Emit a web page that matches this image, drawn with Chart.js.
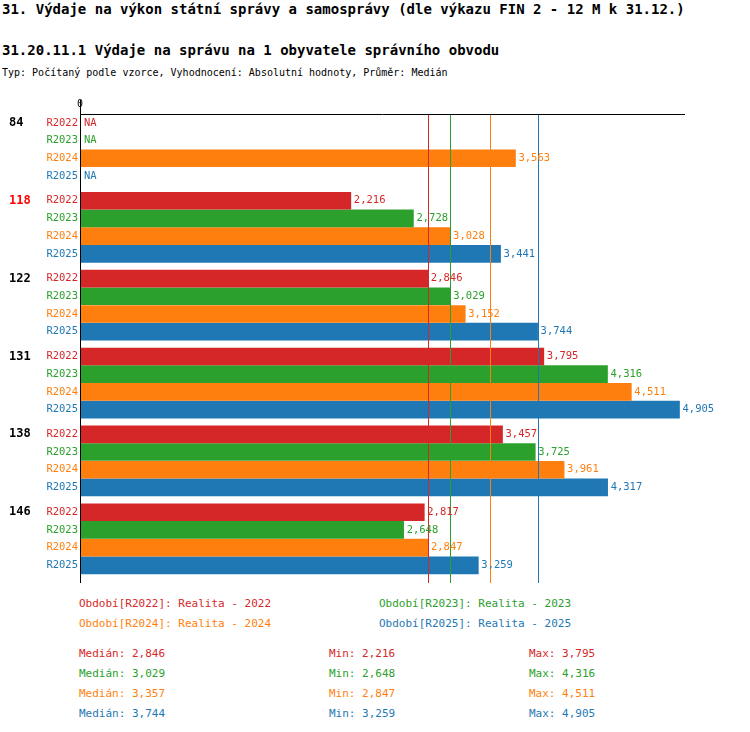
<!DOCTYPE html>
<html><head><meta charset="utf-8">
<script src="https://cdn.jsdelivr.net/npm/chart.js@4"></script>
<style>
body{margin:0;width:750px;height:732px;background:#fff;font-family:"DejaVu Sans Mono",monospace;position:relative;overflow:hidden}
.t{position:absolute;white-space:pre;font-size:11px}
#wrap{position:absolute;left:0;top:95px;width:750px;height:495px}
</style></head><body>
<div class="t" style="left:2px;top:1px;font-size:14px;font-weight:bold">31. Výdaje na výkon státní správy a samosprávy (dle výkazu FIN 2 - 12 M k 31.12.)</div>
<div class="t" style="left:2px;top:42px;font-size:14px;font-weight:bold">31.20.11.1 Výdaje na správu na 1 obyvatele správního obvodu</div>
<div class="t" style="left:2px;top:67px;font-size:10px">Typ: Počítaný podle vzorce, Vyhodnocení: Absolutní hodnoty, Průměr: Medián</div>
<div id="wrap"><canvas id="chart"></canvas></div>
<div id="foot"></div>
<script>
"use strict"

//Data
const groups = ["84", "118", "122", "131", "138", "146"];
const seriesNames = ["R2022", "R2023", "R2024", "R2025"];
const colors = ["#d62728", "#2ca02c", "#ff7f0e", "#1f77b4"];
const r2022 = [null, 2216, 2846, 3795, 3457, 2817];
const r2023 = [null, 2728, 3029, 4316, 3725, 2648];
const r2024 = [3563, 3028, 3152, 4511, 3961, 2847];
const r2025 = [null, 3441, 3744, 4905, 4317, 3259];
const medians = [2846, 3029, 3357, 3744];
const mins = [2216, 2648, 2847, 3259];
const maxs = [3795, 4316, 4511, 4905];
const allSeries = [r2022, r2023, r2024, r2025];
const groupStep = 4.4;

function fmt(v){ return v.toString().replace(/\B(?=(\d{3})+(?!\d))/g, ","); }

//build datasets, one per series
const datasets = allSeries.map((vals, k) => ({
  label: seriesNames[k],
  data: vals.map((v, g) => ({x: v, y: g * groupStep + k})),
  backgroundColor: colors[k],
  barThickness: 17,
  grouped: false
}));

const drawPlugin = {
  id: "extras",
  afterDatasetsDraw(chart){
    const ctx = chart.ctx;
    const xs = chart.scales.x, ys = chart.scales.y;
    const area = chart.chartArea;
    ctx.save();
    //median lines
    medians.forEach((m, k) => {
      const px = Math.round(xs.getPixelForValue(m)) + 0.5;
      ctx.strokeStyle = colors[k];
      ctx.lineWidth = 1;
      ctx.beginPath(); ctx.moveTo(px, area.top); ctx.lineTo(px, area.bottom); ctx.stroke();
    });
    //axes
    ctx.strokeStyle = "#000";
    ctx.beginPath();
    ctx.moveTo(area.left + 0.5, area.top - 14); ctx.lineTo(area.left + 0.5, area.bottom);
    ctx.moveTo(area.left, area.top + 0.5); ctx.lineTo(area.right, area.top + 0.5);
    ctx.stroke();
    ctx.font = "10px 'DejaVu Sans Mono'";
    ctx.fillStyle = "#000";
    ctx.textAlign = "center"; ctx.textBaseline = "bottom";
    ctx.fillText("0", area.left, area.top - 5);
    //labels
    ctx.textBaseline = "middle";
    groups.forEach((gname, g) => {
      const y0 = ys.getPixelForValue(g * groupStep);
      ctx.font = "bold 12px 'DejaVu Sans Mono'";
      ctx.fillStyle = gname === "118" ? "#ff0000" : "#000";
      ctx.textAlign = "left";
      ctx.fillText(gname, 9, y0);
      ctx.font = "10.5px 'DejaVu Sans Mono'";
      allSeries.forEach((vals, k) => {
        const py = ys.getPixelForValue(g * groupStep + k);
        ctx.fillStyle = colors[k];
        ctx.textAlign = "right";
        ctx.fillText(seriesNames[k], area.left - 2, py);
        ctx.textAlign = "left";
        const v = vals[g];
        if (v === null) ctx.fillText("NA", area.left + 4, py);
        else ctx.fillText(fmt(v), xs.getPixelForValue(v) + 3, py);
      });
    });
    ctx.restore();
  }
};

new Chart(document.getElementById("chart"), {
  type: "bar",
  data: {datasets: datasets},
  options: {
    indexAxis: "y",
    responsive: true,
    maintainAspectRatio: false,
    animation: false,
    layout: {padding: {left: 80, right: 65, top: 19, bottom: 7}},
    plugins: {legend: {display: false}, tooltip: {enabled: false}},
    scales: {
      x: {type: "linear", min: 0, max: 4950, display: false},
      y: {type: "linear", min: -0.5, max: 26, reverse: true, offset: false, grace: 0, display: false}
    }
  },
  plugins: [drawPlugin]
});

//footer text
const foot = document.getElementById("foot");
function addText(txt, x, y, c){
  const d = document.createElement("div");
  d.className = "t"; d.textContent = txt;
  d.style.left = x + "px"; d.style.top = y + "px"; d.style.color = c;
  foot.appendChild(d);
}
const years = ["2022", "2023", "2024", "2025"];
seriesNames.forEach((s, k) => {
  addText("Období[" + s + "]: Realita - " + years[k], k % 2 ? 379 : 79, 597 + Math.floor(k / 2) * 20, colors[k]);
  addText("Medián: " + fmt(medians[k]), 79, 647 + k * 20, colors[k]);
  addText("Min: " + fmt(mins[k]), 329, 647 + k * 20, colors[k]);
  addText("Max: " + fmt(maxs[k]), 529, 647 + k * 20, colors[k]);
});
</script>
</body></html>
